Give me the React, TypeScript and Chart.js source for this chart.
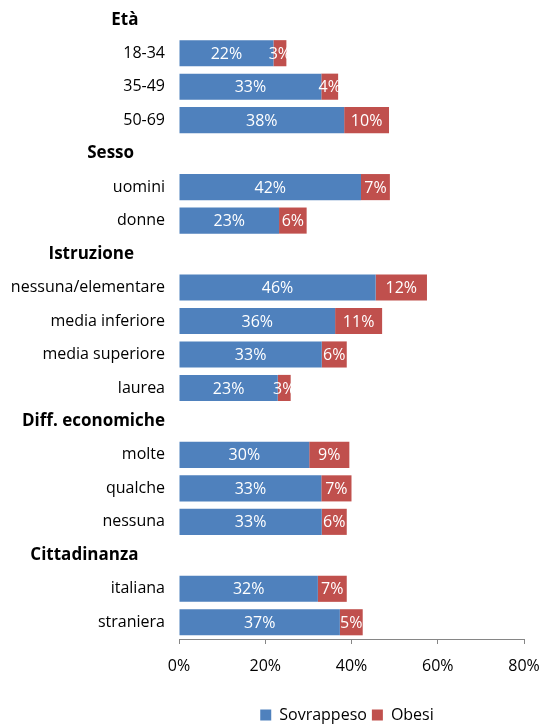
import React, { useEffect, useRef } from "react";
import { Chart, registerables } from "chart.js";

Chart.register(...registerables);

const categories = [
  "Età", "18-34", "35-49", "50-69",
  "Sesso", "uomini", "donne",
  "Istruzione", "nessuna/elementare", "media inferiore", "media superiore", "laurea",
  "Diff. economiche", "molte", "qualche", "nessuna",
  "Cittadinanza", "italiana", "straniera",
];
const headers = ["Età", "Sesso", "Istruzione", "Diff. economiche", "Cittadinanza"];
const headerTrailingSpaces = [6, 7, 7, 0, 6];

const sovrappeso = [null, 21.9, 33.0, 38.3, null, 42.2, 23.2, null, 45.6, 36.2, 33.1, 22.9, null, 30.2, 33.0, 33.1, null, 32.2, 37.3];
const obesi = [null, 3.0, 3.9, 10.4, null, 6.7, 6.4, null, 11.9, 10.9, 5.8, 3.0, null, 9.3, 7.0, 5.8, null, 6.7, 5.3];

const xTicks = [0, 20, 40, 60, 80];
const seriesNames = ["Sovrappeso", "Obesi"];

const FONT = "'Open Sans', 'Liberation Sans', sans-serif";

const dataLabelPlugin = {
  id: "dataLabels",
  afterDatasetsDraw(chart: any) {
    const ctx = chart.ctx;
    ctx.save();
    ctx.fillStyle = "#ffffff";
    ctx.font = `16px ${FONT}`;
    ctx.textAlign = "center";
    ctx.textBaseline = "middle";
    chart.data.datasets.forEach((ds: any, i: number) => {
      const meta = chart.getDatasetMeta(i);
      meta.data.forEach((bar: any, j: number) => {
        const v = ds.data[j];
        if (v == null) return;
        const p = bar.getProps(["x", "y", "base"], true);
        ctx.fillText(Math.round(v) + "%", (p.x + p.base) / 2, p.y + 1);
      });
    });
    ctx.restore();
  },
};

const legendShiftPlugin = {
  id: "legendShift",
  afterLayout(chart: any) {
    const lg = chart.legend;
    if (lg) {
      lg.left += 85;
      lg.right += 85;
    }
  },
};

export default function App() {
  const ref = useRef<HTMLCanvasElement>(null);
  useEffect(() => {
    if (!ref.current) return;
    const labels = categories.map((c) => {
      const h = headers.indexOf(c);
      return h >= 0 ? c + " ".repeat(headerTrailingSpaces[h]) : c;
    });
    const chart = new Chart(ref.current, {
      type: "bar",
      data: {
        labels,
        datasets: [
          { label: seriesNames[0], data: sovrappeso as any, backgroundColor: "#4F81BD", barPercentage: 0.78, categoryPercentage: 1 },
          { label: seriesNames[1], data: obesi as any, backgroundColor: "#C0504D", barPercentage: 0.78, categoryPercentage: 1 },
        ],
      },
      options: {
        indexAxis: "y",
        responsive: false,
        animation: false,
        layout: { padding: { top: 3, right: 19, left: 0, bottom: -6 } },
        plugins: {
          legend: {
            position: "bottom",
            labels: {
              boxWidth: 11,
              boxHeight: 11,
              padding: 5,
              color: "#000",
              font: { family: FONT, size: 16 },
            },
          },
          tooltip: { enabled: false },
        },
        scales: {
          x: {
            stacked: true,
            min: 0,
            max: 80,
            afterBuildTicks: (s: any) => {
              s.ticks = xTicks.map((v) => ({ value: v }));
            },
            afterFit: (s: any) => {
              s.height = 63;
              s.paddingLeft = 0;
              s.paddingRight = 0;
            },
            ticks: {
              callback: (v: any) => v + "%",
              color: "#000",
              padding: 13,
              font: { family: FONT, size: 16 },
              maxRotation: 0,
            },
            grid: { drawOnChartArea: false, drawTicks: true, tickLength: 5, color: "#868686" },
            border: { color: "#868686", width: 1 },
          },
          y: {
            stacked: true,
            afterFit: (s: any) => {
              s.width = 179;
              s.paddingTop = 0;
              s.paddingBottom = 0;
            },
            ticks: {
              color: "#000",
              padding: 14,
              autoSkip: false,
              font: (c: any) =>
                headers.includes(categories[c.index])
                  ? { family: FONT, size: 17, weight: "bold" }
                  : { family: FONT, size: 16 },
            },
            grid: { display: false, drawTicks: false },
            border: { display: false },
          },
        },
      },
      plugins: [dataLabelPlugin, legendShiftPlugin],
    });
    return () => chart.destroy();
  }, []);
  return (
    <div style={{ position: "absolute", left: 0, top: 0, width: 543, height: 727, background: "#fff" }}>
      <canvas ref={ref} width={543} height={727} />
    </div>
  );
}
